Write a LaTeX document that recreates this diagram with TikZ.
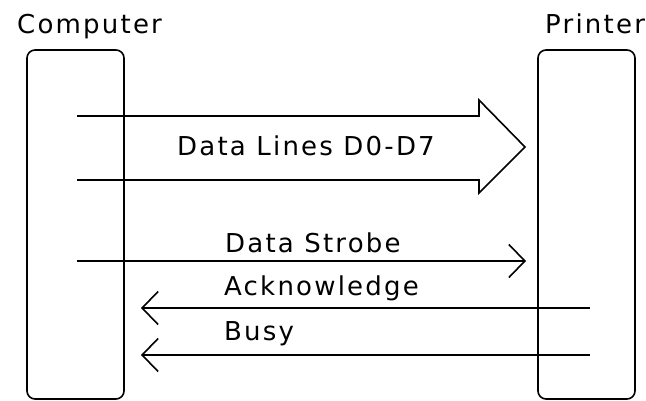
\documentclass[tikz,border=0pt]{standalone}
\usepackage{fontspec}
\setmainfont{DejaVu Sans}[LetterSpace=8.5]
\usetikzlibrary{arrows.meta}
\begin{document}
\begin{tikzpicture}[x=1pt,y=-1pt,
        box/.style={draw, line width=1.6pt, rounded corners=8pt, minimum width=97pt, minimum height=349pt, inner sep=0pt},
        lbl/.style={anchor=base west, inner sep=0pt, font=\fontsize{26}{30}\selectfont},
        sig/.style={line width=1.6pt, -{Straight Barb[length=16pt, width=33pt, line width=1.6pt]}}]
        \useasboundingbox (0,0) rectangle (646,400);

        \node[box] (comp) at (75.5,224.5) {};
        \node[box] (prn) at (586.5,224.5) {};
        \node[lbl] (comptxt) at (17,33) {Computer};
        \node[lbl] (prntxt) at (545,33) {Printer};

        % data lines: wide open arrow
        \draw[line width=1.6pt, line join=miter] (77,116) -- (479,116) -- (479,100) -- (525,147) -- (479,193) -- (479,180) -- (77,180);
        \node[lbl, anchor=base] (data) at (306,155) {Data Lines D0-D7};

        \coordinate (strA) at (77,261);
        \coordinate (strB) at (526,261);
        \draw[sig] (strA) -- (strB);
        \node[lbl] (strobe) at (225,252) {Data Strobe};

        \coordinate (ackA) at (590,308);
        \coordinate (ackB) at (141,308);
        \draw[sig] (ackA) -- (ackB);
        \node[lbl] (ack) at (224,295) {Acknowledge};

        \coordinate (busyA) at (590,355);
        \coordinate (busyB) at (141,355);
        \draw[sig] (busyA) -- (busyB);
        \node[lbl] (busy) at (224,340) {Busy};
    \end{tikzpicture}
\end{document}
